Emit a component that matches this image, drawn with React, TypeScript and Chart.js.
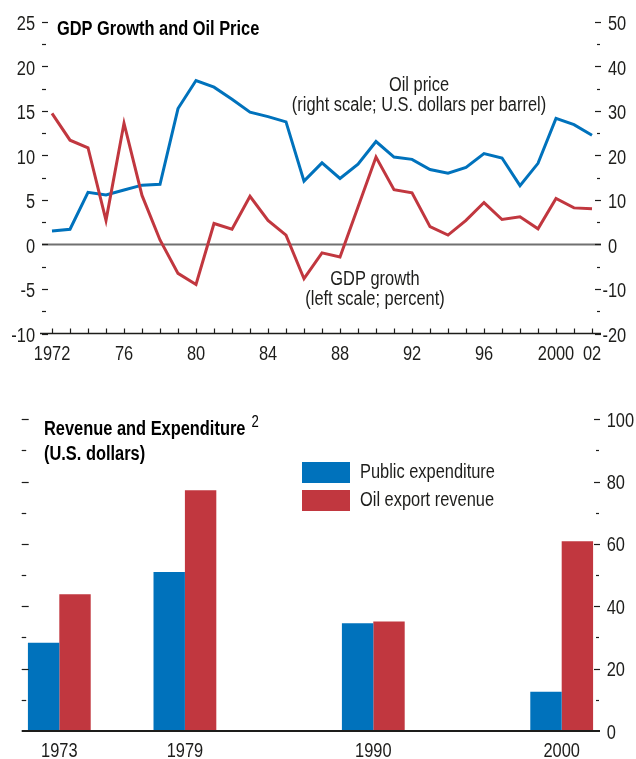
import React, { useEffect, useRef } from 'react';
import { Chart, registerables } from 'chart.js';

Chart.register(...registerables);

// ---------- Data: top chart ----------
const years = [
  1972, 1973, 1974, 1975, 1976, 1977, 1978, 1979, 1980, 1981, 1982, 1983, 1984, 1985, 1986,
  1987, 1988, 1989, 1990, 1991, 1992, 1993, 1994, 1995, 1996, 1997, 1998, 1999, 2000, 2001, 2002,
];
const gdpGrowth = [
  14.7, 11.7, 10.85, 2.7, 13.6, 5.5, 0.5, -3.25, -4.5, 2.35, 1.7, 5.4, 2.7, 1.05, -3.85,
  -0.95, -1.4, 4.2, 9.8, 6.15, 5.8, 2.0, 1.05, 2.7, 4.7, 2.8, 3.1, 1.75, 5.15, 4.1, 4.0,
];
const oilPrice = [
  3.0, 3.4, 11.7, 11.1, 12.2, 13.3, 13.5, 30.5, 36.8, 35.3, 32.6, 29.7, 28.7, 27.5, 14.2,
  18.3, 14.8, 18.0, 23.1, 19.6, 19.1, 16.8, 16.0, 17.3, 20.4, 19.4, 13.2, 18.2, 28.3, 26.9, 24.5,
];
const leftTickValues = [-10, -5, 0, 5, 10, 15, 20, 25];
const rightTickValues = [-20, -10, 0, 10, 20, 30, 40, 50];
const xTickYears = [1972, 1976, 1980, 1984, 1988, 1992, 1996, 2000, 2002];
const xTickLabels = ['1972', '76', '80', '84', '88', '92', '96', '2000', '02'];

// ---------- Data: bottom chart ----------
const barCategories = ['1973', '1979', '1990', '2000'];
const barSlots = [0, 2, 5, 8];
const publicExpenditure = [28.3, 51.0, 34.6, 12.6];
const oilExportRevenue = [43.9, 77.2, 35.1, 60.9];
const barRightTicks = [0, 20, 40, 60, 80, 100];

const BLUE = '#0072BC';
const RED = '#C1373F';
const INK = '#1d1d1b';
const FONT = '"Liberation Sans", Arial, sans-serif';
const SX = 0.82; // horizontal condensation of text

const TOP_H = 365;
const BOT_H = 759 - TOP_H;

function hline(ctx: CanvasRenderingContext2D, x1: number, x2: number, y: number) {
  ctx.beginPath();
  ctx.moveTo(x1, y);
  ctx.lineTo(x2, y);
  ctx.stroke();
}

function text(
  ctx: CanvasRenderingContext2D,
  s: string,
  x: number,
  y: number,
  align: CanvasTextAlign,
  font: string,
  color = INK,
) {
  ctx.save();
  ctx.font = font;
  ctx.fillStyle = color;
  ctx.textAlign = align;
  ctx.textBaseline = 'alphabetic';
  ctx.translate(x, y);
  ctx.scale(SX, 1);
  ctx.fillText(s, 0, 0);
  ctx.restore();
}

function textWidth(ctx: CanvasRenderingContext2D, s: string, font: string) {
  ctx.save();
  ctx.font = font;
  const w = ctx.measureText(s).width * SX;
  ctx.restore();
  return w;
}

function TopChart() {
  const ref = useRef<HTMLCanvasElement>(null);
  useEffect(() => {
    const canvas = ref.current!;
    const decor = {
      id: 'topDecor',
      beforeDatasetsDraw(chart: any) {
        const { ctx, chartArea, scales } = chart;
        const y0 = scales.yL.getPixelForValue(0);
        ctx.save();
        ctx.strokeStyle = '#707070';
        ctx.lineWidth = 2;
        hline(ctx, chartArea.left, chartArea.right, y0);
        ctx.restore();
      },
      afterDraw(chart: any) {
        const { ctx, chartArea, scales } = chart;
        const { left, right, bottom } = chartArea;
        ctx.save();
        ctx.strokeStyle = INK;
        ctx.lineWidth = 1.5;
        hline(ctx, left - 2, right, bottom);
        ctx.lineWidth = 1.2;
        for (const yr of years) {
          const x = Math.round(scales.x.getPixelForValue(yr)) + 0.5;
          ctx.beginPath();
          ctx.moveTo(x, bottom - 5);
          ctx.lineTo(x, bottom);
          ctx.stroke();
        }
        for (let v = -10; v <= 25; v += 2.5) {
          const y = Math.round(scales.yL.getPixelForValue(v)) + 0.5;
          const major = v % 5 === 0;
          hline(ctx, left, left + (major ? 6 : 4), y);
        }
        for (let v = -20; v <= 50; v += 5) {
          const y = Math.round(scales.yR.getPixelForValue(v)) + 0.5;
          const major = v % 10 === 0;
          if (major) hline(ctx, right - 6, right, y);
          else hline(ctx, right - 4, right - 1, y);
        }
        ctx.restore();
        const f = `20px ${FONT}`;
        for (const v of leftTickValues) {
          text(ctx, String(v), left - 7, scales.yL.getPixelForValue(v) + 8.5, 'right', f);
        }
        const minusW = textWidth(ctx, '-', f);
        for (const v of rightTickValues) {
          const x0 = right + 7;
          text(ctx, String(v), v < 0 ? x0 - minusW : x0, scales.yR.getPixelForValue(v) + 8.5, 'left', f);
        }
        xTickYears.forEach((yr, i) => {
          text(ctx, xTickLabels[i], scales.x.getPixelForValue(yr), bottom + 26, 'center', f);
        });
        text(ctx, 'Oil price', 419, 91, 'center', f);
        text(ctx, '(right scale; U.S. dollars per barrel)', 419, 111, 'center', f);
        text(ctx, 'GDP growth', 375, 285, 'center', f);
        text(ctx, '(left scale; percent)', 375, 305, 'center', f);
        text(ctx, 'GDP Growth and Oil Price', 57, 35, 'left', `bold 20px ${FONT}`, '#000');
      },
    };
    const chart = new Chart(canvas, {
      type: 'line',
      data: {
        datasets: [
          {
            label: 'GDP growth',
            data: years.map((x, i) => ({ x, y: gdpGrowth[i] })),
            yAxisID: 'yL',
            borderColor: RED,
            borderWidth: 3,
            pointRadius: 0,
            tension: 0,
            borderJoinStyle: 'miter',
          },
          {
            label: 'Oil price',
            data: years.map((x, i) => ({ x, y: oilPrice[i] })),
            yAxisID: 'yR',
            borderColor: BLUE,
            borderWidth: 3,
            pointRadius: 0,
            tension: 0,
            borderJoinStyle: 'miter',
          },
        ],
      },
      options: {
        responsive: false,
        animation: false,
        devicePixelRatio: 1,
        events: [],
        layout: { padding: { left: 42, right: 35, top: 21.7, bottom: TOP_H - 333.5 } },
        plugins: { legend: { display: false }, tooltip: { enabled: false } },
        scales: {
          x: { type: 'linear', display: false, min: 1971.444, max: 2002.5 },
          yL: { type: 'linear', display: false, position: 'left', min: -10, max: 25 },
          yR: { type: 'linear', display: false, position: 'right', min: -20, max: 50 },
        },
      },
      plugins: [decor],
    } as any);
    return () => chart.destroy();
  }, []);
  return <canvas ref={ref} width={636} height={TOP_H} style={{ display: 'block', width: 636, height: TOP_H }} />;
}

function BottomChart() {
  const ref = useRef<HTMLCanvasElement>(null);
  useEffect(() => {
    const canvas = ref.current!;
    const decor = {
      id: 'bottomDecor',
      afterDraw(chart: any) {
        const { ctx, chartArea, scales } = chart;
        const { left, right, bottom } = chartArea;
        ctx.save();
        ctx.strokeStyle = INK;
        ctx.lineWidth = 2;
        hline(ctx, left, right, bottom);
        ctx.lineWidth = 1.2;
        for (let v = 10; v <= 100; v += 10) {
          const y = Math.round(scales.y.getPixelForValue(v)) + 0.5;
          const major = v % 20 === 0;
          hline(ctx, left, left + (major ? 7 : 4.5), y);
          if (major) hline(ctx, right - 6, right, y);
          else hline(ctx, right - 4, right - 1, y);
        }
        ctx.restore();
        const f = `20px ${FONT}`;
        for (const v of barRightTicks) {
          text(ctx, String(v), right + 6.7, scales.y.getPixelForValue(v) + 7.5, 'left', f);
        }
        barSlots.forEach((s, i) => {
          text(ctx, barCategories[i], scales.x.getPixelForValue(s), bottom + 25.7, 'center', f);
        });
        // legend
        const ds = chart.data.datasets;
        const legendY = [462 - TOP_H, 490 - TOP_H];
        ds.forEach((d: any, i: number) => {
          ctx.save();
          ctx.fillStyle = d.backgroundColor;
          ctx.fillRect(302, legendY[i], 48, 21);
          ctx.restore();
          text(ctx, d.label, 360, legendY[i] + 16.3, 'left', f);
        });
        // title
        const bf = `bold 20px ${FONT}`;
        const t1 = 'Revenue and Expenditure';
        text(ctx, t1, 44, 435 - TOP_H, 'left', bf, '#000');
        const w1 = textWidth(ctx, t1, bf);
        text(ctx, '(U.S. dollars)', 44, 460 - TOP_H, 'left', bf, '#000');
        text(ctx, '2', 44 + w1 + 6, 426.7 - TOP_H, 'left', `16px ${FONT}`, '#000');
      },
    };
    const chart = new Chart(canvas, {
      type: 'bar',
      data: {
        datasets: [
          {
            label: 'Public expenditure',
            data: barSlots.map((x, i) => ({ x, y: publicExpenditure[i] })),
            backgroundColor: BLUE,
            borderWidth: 0,
          },
          {
            label: 'Oil export revenue',
            data: barSlots.map((x, i) => ({ x, y: oilExportRevenue[i] })),
            backgroundColor: RED,
            borderWidth: 0,
          },
        ],
      },
      options: {
        responsive: false,
        animation: false,
        devicePixelRatio: 1,
        events: [],
        layout: { padding: { left: 21.7, right: 36, top: 419.3 - TOP_H, bottom: BOT_H - (731 - TOP_H) } },
        plugins: { legend: { display: false }, tooltip: { enabled: false } },
        datasets: { bar: { categoryPercentage: 0.5, barPercentage: 1 } },
        scales: {
          x: {
            type: 'linear',
            display: false,
            offset: false,
            grid: { offset: false },
            min: -0.599,
            max: 8.61,
            afterBuildTicks: (scale: any) => {
              scale.ticks = barSlots.map((v) => ({ value: v }));
            },
          },
          y: { type: 'linear', display: false, min: 0, max: 100 },
        },
      },
      plugins: [decor],
    } as any);
    return () => chart.destroy();
  }, []);
  return <canvas ref={ref} width={636} height={BOT_H} style={{ display: 'block', width: 636, height: BOT_H }} />;
}

export default function App() {
  useEffect(() => {
    document.body.style.margin = '0';
  }, []);
  return (
    <div style={{ width: 636, height: 759, background: '#fff', overflow: 'hidden' }}>
      <style>{'body{margin:0;background:#fff}'}</style>
      <TopChart />
      <BottomChart />
    </div>
  );
}
